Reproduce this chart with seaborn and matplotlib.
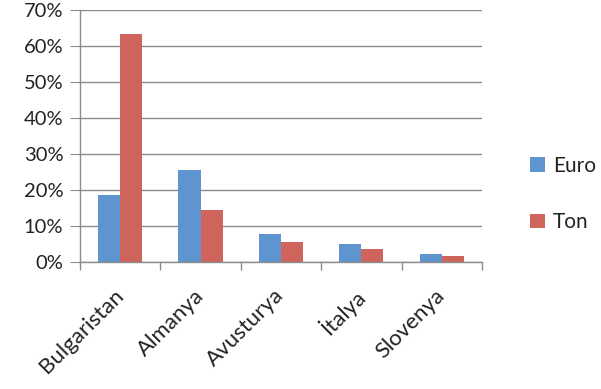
import numpy as np
import pandas as pd
import matplotlib
matplotlib.use("Agg")
import matplotlib.pyplot as plt
import seaborn as sns
from matplotlib.ticker import PercentFormatter, FixedLocator

countries = ["Bulgaristan", "Almanya", "Avusturya", "İtalya", "Slovenya"]
euro = [18.6, 25.5, 7.7, 5.0, 2.2]
ton = [63.3, 14.4, 5.5, 3.6, 1.7]
series = ["Euro", "Ton"]
colors = ["#5E95CE", "#CF645C"]

df = pd.DataFrame({
    "country": countries * 2,
    "value": euro + ton,
    "series": ["Euro"] * len(countries) + ["Ton"] * len(countries),
})

sns.set_style("white")
plt.rcParams["font.family"] = ["Lato", "DejaVu Sans"]

fig = plt.figure(figsize=(6.01, 3.89), dpi=100)
ax = fig.add_axes([0.133, 0.3265, 0.669, 0.6475])

sns.barplot(data=df, x="country", y="value", hue="series", palette=colors,
            width=0.55, saturation=1, linewidth=0, ax=ax, legend=True)

ax.set_ylim(0, 70)
ax.set_xlim(-0.5, len(countries) - 0.5)
ax.set_yticks(np.arange(0, 71, 10))
ax.yaxis.set_major_formatter(PercentFormatter(decimals=0))
ax.grid(axis="y", color="#8c8c8c", linewidth=1)
ax.set_axisbelow(True)
ax.set_xlabel("")
ax.set_ylabel("")

for s in ["top", "right"]:
    ax.spines[s].set_visible(False)
for s in ["left", "bottom"]:
    ax.spines[s].set_color("#8c8c8c")
    ax.spines[s].set_linewidth(1)

txt = "#222222"
ax.tick_params(axis="y", left=True, length=7, color="#8c8c8c", labelsize=14.5, labelcolor=txt, pad=5)
ax.tick_params(axis="x", which="major", bottom=True, length=0, labelsize=16, labelcolor=txt, pad=22)
ax.xaxis.set_minor_locator(FixedLocator(np.arange(-0.5, len(countries), 1)))
ax.tick_params(axis="x", which="minor", bottom=True, length=6, color="#8c8c8c", width=1)
for lbl in ax.get_xticklabels():
    lbl.set_rotation(45)
    lbl.set_ha("right")
    lbl.set_va("center")
    lbl.set_rotation_mode("anchor")

leg = ax.legend(loc="center left", bbox_to_anchor=(1.12, 0.27), frameon=False,
                fontsize=15, handlelength=0.7, handleheight=0.7,
                handletextpad=0.4, labelspacing=1.75, borderaxespad=0, borderpad=0)
for t in leg.get_texts():
    t.set_color(txt)

fig.savefig("out.png", dpi=100)
